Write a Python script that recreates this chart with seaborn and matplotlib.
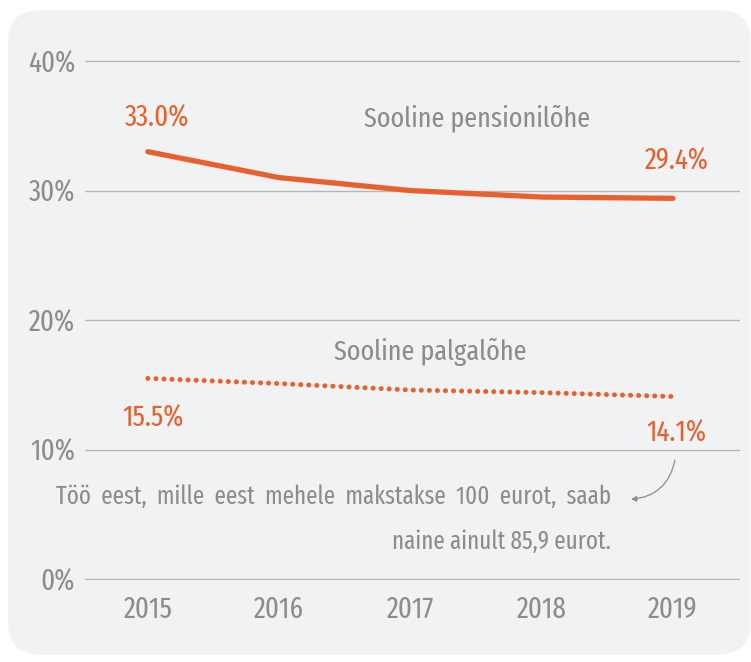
import pandas as pd
import seaborn as sns
import matplotlib.pyplot as plt
from matplotlib.patches import FancyBboxPatch

years = [2015, 2016, 2017, 2018, 2019]
pension_gap = [33.0, 31.0, 30.0, 29.5, 29.4]
wage_gap = [15.5, 15.1, 14.6, 14.4, 14.1]
yticks = [0, 10, 20, 30, 40]

ORANGE = '#e8602c'
GREY = '#8c8c8c'
BG = '#f1f2f4'

sns.set_theme(style='white')
plt.rcParams['font.family'] = ['Fira Sans Extra Condensed', 'DejaVu Sans']

df = pd.DataFrame({'year': years, 'pension': pension_gap, 'wage': wage_gap})

fig = plt.figure(figsize=(7.51, 6.62), dpi=100)
fig.patch.set_facecolor('white')
# rounded grey panel behind the chart
panel = FancyBboxPatch((0.011, 0.011), 0.988, 0.974, boxstyle='round,pad=0,rounding_size=0.045',
                       transform=fig.transFigure, facecolor=BG, edgecolor='none', zorder=-5)
fig.patches.append(panel)

ax = fig.add_axes([0.113, 0.124, 0.872, 0.785])
ax.set_facecolor('none')
ax.set_zorder(2)

sns.lineplot(data=df, x='year', y='pension', ax=ax, color=ORANGE, linewidth=3.8,
             solid_capstyle='round')
sns.lineplot(data=df, x='year', y='wage', ax=ax, color=ORANGE, linewidth=3.6,
             dashes=False, linestyle=(0, (0.01, 1.6)), dash_capstyle='round')

ax.set_xlim(2014.52, 2019.51)
ax.set_ylim(-0.06, 40.06)
ax.set_yticks(yticks)
ax.set_yticklabels([f'{v}%' for v in yticks])
ax.set_xticks(years)
ax.set_xticklabels([str(y) for y in years])
ax.yaxis.grid(True, color='#b5b5b5', linewidth=1.0)
ax.xaxis.grid(False)
for s in ax.spines.values():
    s.set_visible(False)
ax.tick_params(axis='both', colors=GREY, labelsize=21, length=0)
ax.tick_params(axis='y', pad=7)
ax.tick_params(axis='x', pad=11)
ax.set_xlabel('')
ax.set_ylabel('')

fs = 21
ax.text(2015.07, 35.6, f'{pension_gap[0]:.1f}%', color=ORANGE, fontsize=fs, ha='center', va='center')
ax.text(2019.03, 32.3, f'{pension_gap[-1]:.1f}%', color=ORANGE, fontsize=fs, ha='center', va='center')
ax.text(2017.51, 35.6, 'Sooline pensionilõhe', color=GREY, fontsize=20.5, ha='center', va='center')
ax.text(2017.15, 17.5, 'Sooline palgalõhe', color=GREY, fontsize=20.5, ha='center', va='center')
ax.text(2015.04, 12.4, f'{wage_gap[0]:.1f}%', color=ORANGE, fontsize=fs, ha='center', va='center')
ax.text(2019.03, 11.3, f'{wage_gap[-1]:.1f}%', color=ORANGE, fontsize=fs, ha='center', va='center')

note1 = 'Töö eest, mille eest mehele makstakse 100 eurot, saab'.replace(' ', ' \u2009')
ax.text(2018.53, 6.4, note1, color=GREY, fontsize=18, ha='right', va='center')
ax.text(2018.53, 2.9, 'naine ainult 85,9 eurot.', color=GREY, fontsize=18, ha='right', va='center')

ax.annotate('', xy=(2018.66, 6.15), xytext=(2019.02, 9.4),
            arrowprops=dict(arrowstyle='-|>', color=GREY, lw=0.9, mutation_scale=8,
                            connectionstyle='arc3,rad=-0.4'))

fig.savefig('out.png', dpi=100)
